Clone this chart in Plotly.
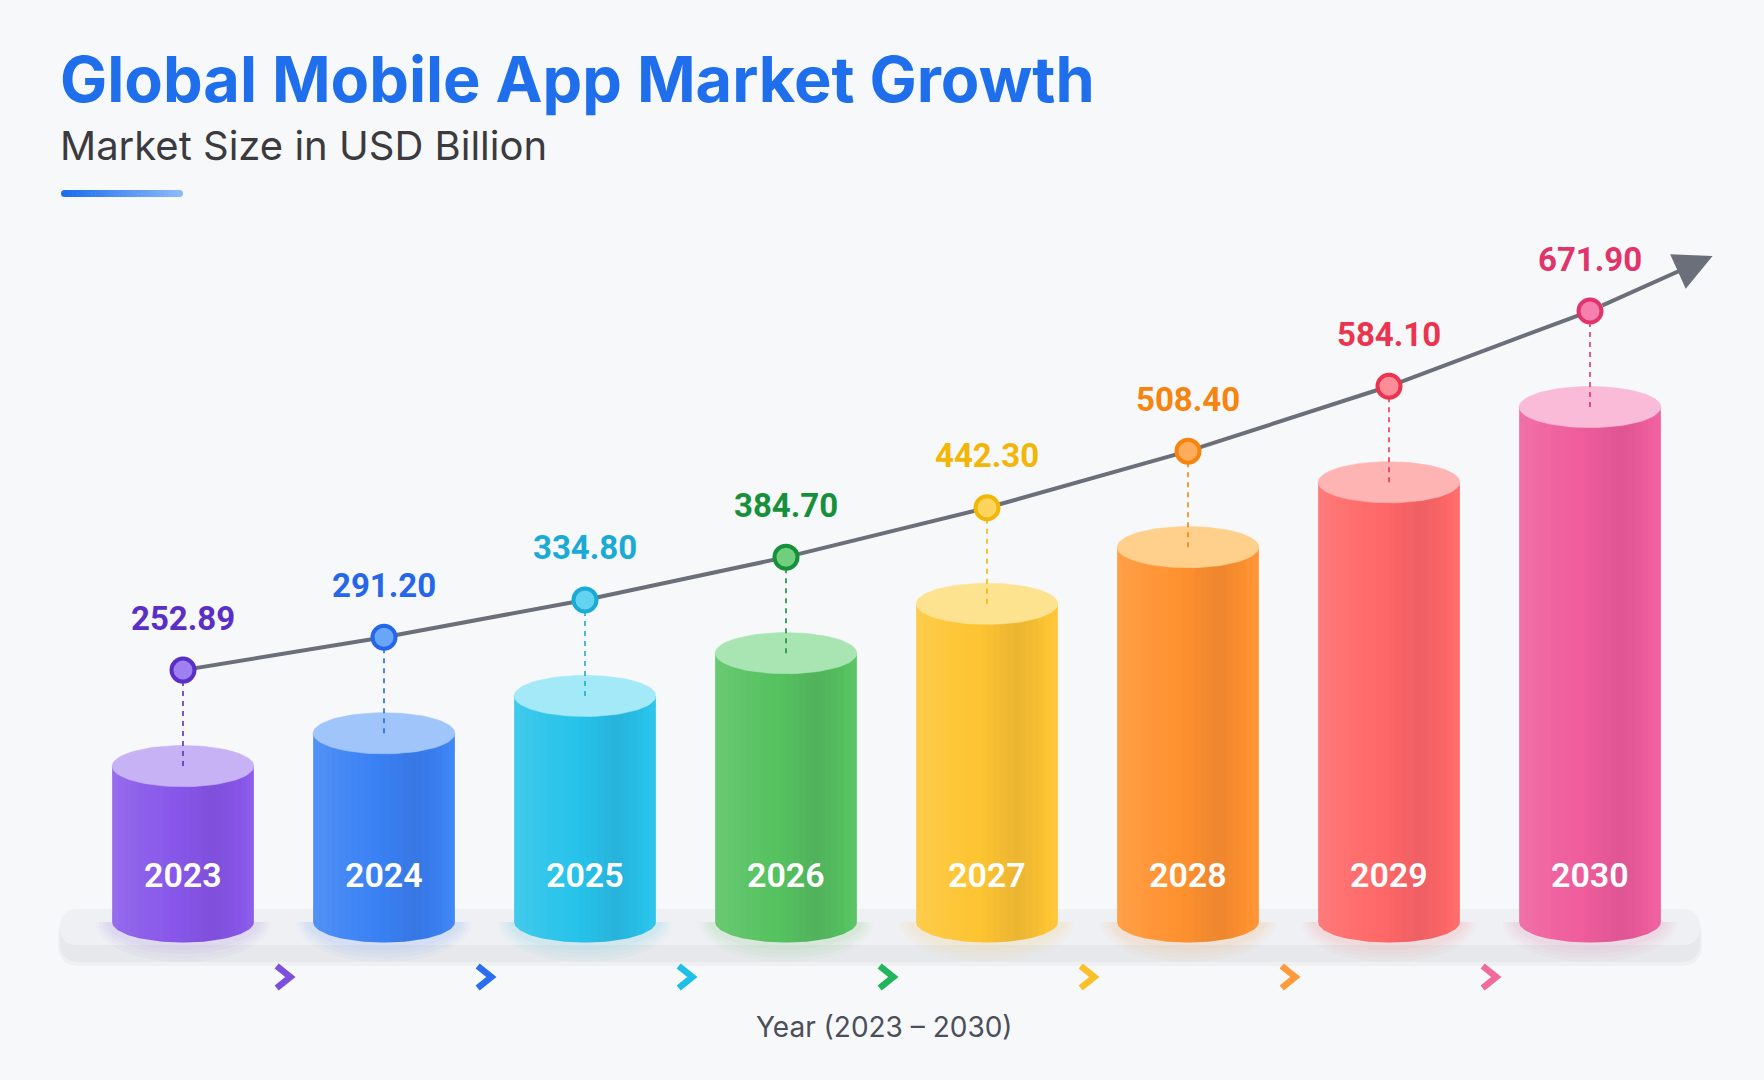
import numpy as np
import plotly.graph_objects as go

# ---------------- data ----------------
years = ["2023", "2024", "2025", "2026", "2027", "2028", "2029", "2030"]
market_size = [252.89, 291.20, 334.80, 384.70, 442.30, 508.40, 584.10, 671.90]
value_labels = ["252.89", "291.20", "334.80", "384.70", "442.30", "508.40", "584.10", "671.90"]

title_text = "Global Mobile App Market Growth"
subtitle_text = "Market Size in USD Billion"
x_title_text = "Year (2023 – 2030)"

# ---------------- colours ----------------
body_colors = ["#8857ea", "#3a82f4", "#27c3ea", "#55c260", "#fdc532", "#ff922f", "#ff6868", "#ef5d9c"]
glow_rgb = ["136,87,234", "58,130,244", "39,195,234", "85,194,96", "253,197,50", "255,146,47",
            "255,104,104", "239,93,156"]
top_colors = ["#c8b2f6", "#9fc5fb", "#a3e9f8", "#a9e5b2", "#fde390", "#ffcf8c", "#ffb4b4", "#f9bbd8"]
label_colors = ["#5b2fc6", "#2566ea", "#1aaad6", "#17903b", "#f2b606", "#f6840f", "#ea3450", "#e1346a"]
marker_fill = ["#9f80f1", "#6aa6f8", "#62d4f0", "#6fcf7c", "#fdd55e", "#ffad5c", "#ff8d97", "#f57fae"]
chevron_colors = ["#7b4fdc", "#2a6ef0", "#1ec0e6", "#22b55b", "#f9c02a", "#ff9a3a", "#f06a9b"]

BG = "#f7f8fa"
LINE_GRAY = "#6b6f7a"

# ---------------- geometry (pixels of the 1764x1080 canvas) ----------------
W, H = 1764, 1080
X0_PX, DX_PX = 183.0, 201.0          # first category centre, category spacing
BASE_VAL, BASE_PX, K = 71.0, 922.0, 0.857   # axis floor value, its pixel row, px per unit
LIFT_PX = 96.0                        # trend line sits above bar tops
BAR_W = 0.705
CAP_RY = 24.0                         # ellipse half-height in value units

xr = [-X0_PX / DX_PX, (W - X0_PX) / DX_PX]
yr = [BASE_VAL - (H - BASE_PX) / K, BASE_VAL + BASE_PX / K]
lift_u = LIFT_PX / K
y2r = [yr[0] - lift_u, yr[1] - lift_u]

idx = list(range(len(years)))
rx = BAR_W / 2

fig = go.Figure()

# cylinder bodies
fig.add_trace(go.Bar(
    x=idx, y=[v - BASE_VAL for v in market_size], base=BASE_VAL, width=BAR_W,
    marker=dict(color=body_colors, line=dict(width=0)), hoverinfo="skip", showlegend=False))

t_full = np.linspace(0, 2 * np.pi, 90)
t_half = np.linspace(np.pi, 2 * np.pi, 60)

# soft coloured glow on the platform under each cylinder
glow_layers = [(1.24, 1.95, 0.030), (1.19, 1.75, 0.035), (1.14, 1.55, 0.040), (1.09, 1.35, 0.045)]
for i, v in enumerate(market_size):
    for sx, sy, al in glow_layers:
        xs = list(i + rx * sx * np.cos(t_half)) + [i - rx * sx]
        ys = list(BASE_VAL + CAP_RY * sy * np.sin(t_half)) + [BASE_VAL]
        fig.add_trace(go.Scatter(x=xs, y=ys, mode="lines", fill="toself",
                                 fillcolor="rgba(%s,%.3f)" % (glow_rgb[i], al),
                                 line=dict(width=0, color="rgba(0,0,0,0)"),
                                 hoverinfo="skip", showlegend=False))

# bottom half-ellipses
for i, v in enumerate(market_size):
    xs = list(i + rx * np.cos(t_half)) + [i - rx]
    ys = list(BASE_VAL + CAP_RY * np.sin(t_half)) + [BASE_VAL]
    fig.add_trace(go.Scatter(x=xs, y=ys, mode="lines", fill="toself",
                             fillcolor=body_colors[i], line=dict(width=0, color=body_colors[i]),
                             hoverinfo="skip", showlegend=False))

# smooth cylindrical shading: many thin vertical strips following the bottom curve
N_STRIP = 22
edges = np.linspace(-rx, rx, N_STRIP + 1)
for s in range(N_STRIP):
    u = ((edges[s] + edges[s + 1]) / 2) / rx          # -1 .. 1 across the cylinder
    light = 0.13 * max(0.0, -u) ** 1.2 * (1 - 0.3 * (u + 1)) + 0.05 * max(0.0, u - 0.75) / 0.25
    dark = 0.075 * np.exp(-((u - 0.42) / 0.32) ** 2)
    if light >= dark:
        col = "rgba(255,255,255,%.3f)" % (light - dark)
    else:
        col = "rgba(40,0,60,%.3f)" % (dark - light)
    xs, ys = [], []
    a, b = edges[s], edges[s + 1]
    xx = np.linspace(a, b, 4)
    for i, v in enumerate(market_size):
        bottom = BASE_VAL - CAP_RY * np.sqrt(np.clip(1 - (xx / rx) ** 2, 0, 1))
        xs += [i + a] + list(i + xx) + [i + b, i + a, None]
        ys += [v] + list(bottom) + [v, v, None]
    fig.add_trace(go.Scatter(x=xs, y=ys, mode="lines", fill="toself", fillcolor=col,
                             line=dict(width=0, color="rgba(0,0,0,0)"),
                             hoverinfo="skip", showlegend=False))

# top ellipses
for i, v in enumerate(market_size):
    fig.add_trace(go.Scatter(x=i + rx * np.cos(t_full), y=v + CAP_RY * np.sin(t_full),
                             mode="lines", fill="toself", fillcolor=top_colors[i],
                             line=dict(width=0.6, color=top_colors[i]),
                             hoverinfo="skip", showlegend=False))

# dashed connectors from marker to bar top
for i, v in enumerate(market_size):
    fig.add_trace(go.Scatter(x=[i, i], y=[v - lift_u, v], yaxis="y2", mode="lines",
                             line=dict(color=label_colors[i], width=2, dash="5px,5px"),
                             opacity=0.8, hoverinfo="skip", showlegend=False))

# trend line
fig.add_trace(go.Scatter(x=idx, y=market_size, yaxis="y2", mode="lines",
                         line=dict(color=LINE_GRAY, width=4), hoverinfo="skip", showlegend=False))
# arrow extension beyond the last point
ext = 0.61
x_end = idx[-1] + ext
y_end = market_size[-1] + ext * (market_size[-1] - market_size[-2]) * 1.2
fig.add_annotation(x=x_end, y=y_end, xref="x", yref="y2", ax=idx[-1], ay=market_size[-1],
                   axref="x", ayref="y2", text="", showarrow=True, arrowhead=2,
                   arrowsize=1.9, arrowwidth=4, arrowcolor=LINE_GRAY, startstandoff=12)
# markers
fig.add_trace(go.Scatter(x=idx, y=market_size, yaxis="y2", mode="markers",
                         marker=dict(size=23, color=marker_fill,
                                     line=dict(color=label_colors, width=4)),
                         hoverinfo="skip", showlegend=False))

# value labels
for i, v in enumerate(market_size):
    fig.add_annotation(x=i, y=v, xref="x", yref="y2", yshift=52, text=value_labels[i],
                       showarrow=False, font=dict(family="Roboto", size=33, color=label_colors[i],
                                                  weight="bold"))
# year labels inside bars
for i, yv in enumerate(years):
    fig.add_annotation(x=i, y=1 - 875 / H, xref="x", yref="paper", yanchor="middle",
                       text=yv, showarrow=False,
                       font=dict(family="Roboto", size=34, color="#ffffff", weight=600))

# axis title
fig.add_annotation(x=885 / W, y=1 - 1027 / H, xref="paper", yref="paper", yanchor="middle",
                   text=x_title_text, showarrow=False,
                   font=dict(family="Inter", size=28, color="#4a4f5a"))
# title & subtitle
fig.add_annotation(x=58 / W, y=1 - 79 / H, xref="paper", yref="paper", xanchor="left",
                   yanchor="middle", text=title_text, showarrow=False,
                   font=dict(family="Inter", size=63, color="#1f6fed", weight="bold"))
fig.add_annotation(x=58 / W, y=1 - 145 / H, xref="paper", yref="paper", xanchor="left",
                   yanchor="middle", text=subtitle_text, showarrow=False,
                   font=dict(family="Inter", size=40, color="#3b3b3f"))

shapes = []
# chevrons between bars (x in category units, y in paper)
CH_Y, CH_DX, CH_DY = 977.0, 0.034, 11.0
for i in range(len(years) - 1):
    xc = i + 0.5
    path = "M %.4f,%.5f L %.4f,%.5f L %.4f,%.5f" % (
        xc - CH_DX, 1 - (CH_Y - CH_DY) / H, xc + CH_DX, 1 - CH_Y / H,
        xc - CH_DX, 1 - (CH_Y + CH_DY) / H)
    shapes.append(dict(type="path", xref="x", yref="paper", path=path,
                       line=dict(color=chevron_colors[i], width=6.5), layer="above"))

# blue underline with gradient
ux0, ux1, uy, uh = 61.0, 183.0, 193.5, 7.0
n_seg = 30
c0 = np.array([0x1d, 0x6f, 0xf0]); c1 = np.array([0x8a, 0xb7, 0xfa])
for s in range(n_seg):
    f = s / (n_seg - 1)
    c = (c0 + (c1 - c0) * f).astype(int)
    col = "rgb(%d,%d,%d)" % tuple(c)
    a = ux0 + uh / 2 + (ux1 - ux0 - uh) * s / n_seg
    b = ux0 + uh / 2 + (ux1 - ux0 - uh) * (s + 1) / n_seg + 0.6
    shapes.append(dict(type="rect", xref="paper", yref="paper", x0=a / W, x1=b / W,
                       y0=1 - (uy + uh / 2) / H, y1=1 - (uy - uh / 2) / H,
                       fillcolor=col, line=dict(width=0), layer="above"))
for px, c in ((ux0 + uh / 2, c0), (ux1 - uh / 2, c1)):
    col = "rgb(%d,%d,%d)" % tuple(c)
    shapes.append(dict(type="circle", xref="paper", yref="paper",
                       x0=(px - uh / 2) / W, x1=(px + uh / 2) / W,
                       y0=1 - (uy + uh / 2) / H, y1=1 - (uy - uh / 2) / H,
                       fillcolor=col, line=dict(width=0), layer="above"))


def rrect(x0, y0, x1, y1, r):
    # rounded rectangle path in paper coords (input in pixels)
    def P(x, y):
        return "%.5f,%.5f" % (x / W, 1 - y / H)
    return ("M " + P(x0 + r, y0) + " L " + P(x1 - r, y0) + " Q " + P(x1, y0) + " " + P(x1, y0 + r) +
            " L " + P(x1, y1 - r) + " Q " + P(x1, y1) + " " + P(x1 - r, y1) +
            " L " + P(x0 + r, y1) + " Q " + P(x0, y1) + " " + P(x0, y1 - r) +
            " L " + P(x0, y0 + r) + " Q " + P(x0, y0) + " " + P(x0 + r, y0) + " Z")


# platform: soft shadow, front edge, top face
shapes.append(dict(type="path", xref="paper", yref="paper", path=rrect(58, 914, 1702, 966, 22),
                   fillcolor="rgba(0,0,0,0.03)", line=dict(width=0), layer="below"))
shapes.append(dict(type="path", xref="paper", yref="paper", path=rrect(60, 912, 1700, 962, 20),
                   fillcolor="#e6e8eb", line=dict(width=0), layer="below"))
shapes.append(dict(type="path", xref="paper", yref="paper", path=rrect(60, 909, 1700, 945, 18),
                   fillcolor="#eff0f3", line=dict(width=0), layer="below"))

fig.update_layout(
    width=W, height=H, margin=dict(l=0, r=0, t=0, b=0),
    paper_bgcolor=BG, plot_bgcolor="rgba(0,0,0,0)",
    barmode="overlay", showlegend=False, shapes=shapes,
    xaxis=dict(range=xr, domain=[0, 1], visible=False, fixedrange=True),
    yaxis=dict(range=yr, domain=[0, 1], visible=False, fixedrange=True),
    yaxis2=dict(range=y2r, overlaying="y", visible=False, fixedrange=True),
)

fig.write_html("out.html", config={"displayModeBar": False},
               post_script="document.body.style.margin='0';document.body.style.overflow='hidden';")
